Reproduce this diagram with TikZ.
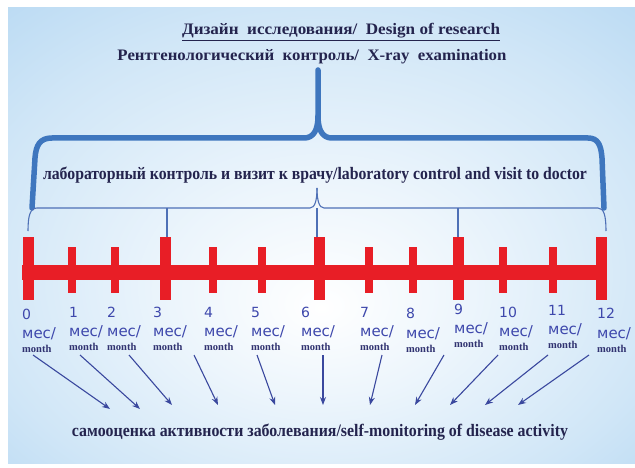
\documentclass[tikz,border=0pt]{standalone}
\usepackage{fontspec}
\setmainfont{Liberation Serif}
\newfontfamily\labfont{DejaVu Sans}
\usetikzlibrary{arrows.meta}
\definecolor{bgout}{RGB}{160,204,238}
\definecolor{bgmid}{RGB}{208,230,247}
\definecolor{bracecol}{RGB}{62,118,190}
\definecolor{thincol}{RGB}{78,112,182}
\definecolor{barred}{RGB}{232,30,38}
\definecolor{headcol}{RGB}{36,36,78}
\definecolor{labcol}{RGB}{62,72,172}
\definecolor{monthcol}{RGB}{48,50,112}
\definecolor{arrowcol}{RGB}{58,72,158}
\pgfdeclareradialshading{bgshade}{\pgfpoint{0bp}{-8bp}}{color(0bp)=(white); color(12bp)=(white!60!bgmid); color(28bp)=(bgmid); color(50bp)=(bgout)}
\newsavebox\fitbox
\newcommand\fitw[2]{\sbox\fitbox{#2}\pgfmathsetmacro\fitratio{#1/\the\wd\fitbox}\scalebox{\fitratio}[1]{\usebox\fitbox}}
\begin{document}
\begin{tikzpicture}[x=1pt,y=-1pt,
  head/.style={text=headcol,font=\fontsize{16}{16}\selectfont\bfseries,inner sep=0pt},
  headbig/.style={text=headcol,font=\fontsize{17.5}{17.5}\selectfont\bfseries,inner sep=0pt},
  numlab/.style={text=labcol,font=\labfont\fontsize{14}{14}\selectfont,anchor=west,inner sep=0pt},
  meslab/.style={text=labcol,font=\labfont\fontsize{15}{15}\selectfont,anchor=west,inner sep=0pt},
  monlab/.style={text=monthcol,font=\fontsize{10.5}{10.5}\selectfont\bfseries,anchor=west,inner sep=0pt},
  bigtick/.style={fill=barred,draw=none,minimum width=11pt,minimum height=63pt,inner sep=0pt},
  smalltick/.style={fill=barred,draw=none,minimum width=8pt,minimum height=46pt,inner sep=0pt},
  thick brace/.style={draw=bracecol,line width=5.5pt,line cap=round,line join=round},
  thin brace/.style={draw=thincol,line width=1.1pt},
  arr/.style={draw=arrowcol,line width=1.1pt,-{Stealth[length=8pt,width=6pt]}}]
\useasboundingbox (0,0) rectangle (635,468);
\fill[white] (0,0) rectangle (635,468);
\shade[shading=bgshade] (8,8) rectangle (635,463);
% headings
\node[head] (title) at (341,32) {\fitw{318}{\underline{Дизайн\ \ исследования/\ \ Design of research}}};
\node[head] (xray) at (312,57) {\fitw{389}{Рентгенологический\ \ контроль/\ \ X-ray\ \ examination}};
\node[headbig] (lab) at (315,175) {\fitw{544}{лабораторный контроль и визит к врачу/laboratory control and visit to doctor}};
\node[headbig] (self) at (320,432) {\fitw{496}{самооценка активности заболевания/self-monitoring of disease activity}};
% thick brace
\draw[thick brace] (32,208) -- (35,158) .. controls (36,145) and (40,138) .. (52,138)
  -- (304,138) .. controls (313,138) and (318,131) .. (318,116) -- (318,70);
\draw[thick brace] (318,116) .. controls (318,131) and (323,138) .. (332,138)
  -- (588,138) .. controls (598,138) and (601,145) .. (602,158) -- (604,208);
% red timeline
\fill[barred] (22,265) rectangle (607,280);
\foreach \k/\x in {0/28,3/165,6/319,9/458.5,12/601}{
  \node[bigtick] (t\k) at (\x,268.5) {};
}
\foreach \k/\x in {1/71.5,2/115,4/212.5,5/261.5,7/369,8/413,10/502.5,11/552.5}{
  \node[smalltick] (t\k) at (\x,270) {};
}
% thin brace
\draw[thin brace] (28,231) .. controls (28,216) and (30,208) .. (37,208)
  -- (310,208) .. controls (315,208) and (317,200) .. (317,188);
\draw[thin brace] (317,188) .. controls (317,200) and (319,208) .. (324,208)
  -- (598,208) .. controls (604,208) and (606,216) .. (606,231);
\coordinate (c3) at (167,208);
\coordinate (c6) at (317,208);
\coordinate (c9) at (458,208);
\draw[thin brace] (c3) -- (c3 |- t3.north);
\draw[thin brace] (c6) -- (c6 |- t6.north);
\draw[thin brace] (c9) -- (c9 |- t9.north);
% labels
\foreach \k/\L/\dy in {0/22/2,1/69/0,2/107/0,3/153/0,4/204/0,5/251/0,6/301/0,7/360/0,8/406/1.5,9/454/-3,10/499/0,11/548/-2,12/597/1.5}{
  \node[numlab] (n\k) at (\L,312+\dy) {\k};
  \node[meslab] (m\k) at (\L,332+\dy) {мес/};
  \node[monlab] (mo\k) at (\L,347+\dy) {month};
}
% arrows
\foreach \i/\sx/\ex/\ey in {1/33/110/409,2/80/140/409,3/129/172/405,4/194/218/405,5/257/275/405,6/323/323/405,7/382/370/405,8/444/415/405,9/498/450/405,10/548/485/405,11/589/518/405}{
  \coordinate (a\i) at (\sx,355);
  \coordinate (b\i) at (\ex,\ey);
  \draw[arr] (a\i) -- (b\i);
}
\end{tikzpicture}
\end{document}
